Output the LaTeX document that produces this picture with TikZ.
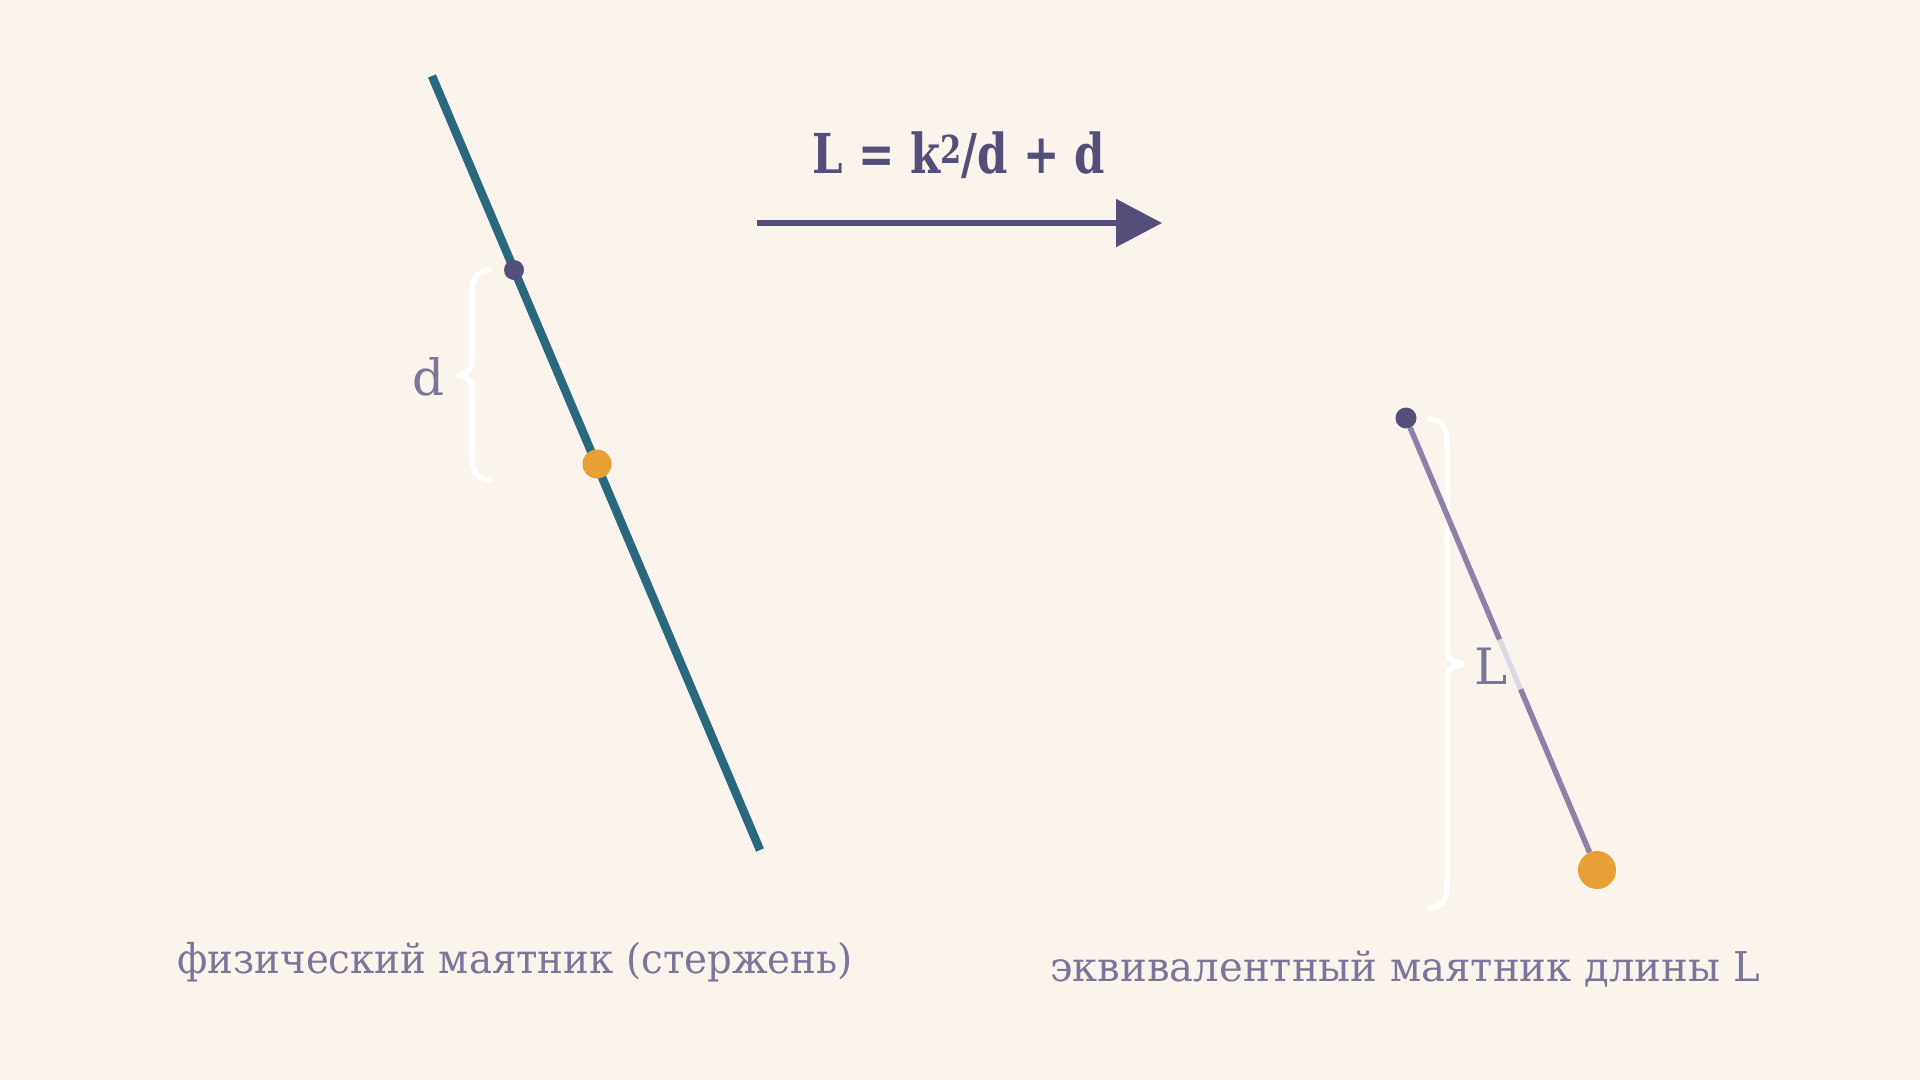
\documentclass[tikz,border=0pt]{standalone}
\usepackage{fontspec}
\setmainfont{DejaVu Serif}
\usetikzlibrary{arrows.meta,calc}
\definecolor{bgc}{RGB}{250,244,237}
\definecolor{rodc}{RGB}{42,104,128}
\definecolor{pivc}{RGB}{84,79,122}
\definecolor{bobc}{RGB}{232,160,54}
\definecolor{labc}{RGB}{123,118,153}
\definecolor{strc}{RGB}{142,128,168}
\tikzset{
  pivot/.style={circle, fill=pivc, inner sep=0pt, minimum size=#1},
  bob/.style={circle, fill=bobc, inner sep=0pt, minimum size=#1},
  bracepath/.style={draw=white, line width=5.5pt, line cap=round, line join=round},
  lab/.style={text=labc, font=\fontsize{50}{60}\selectfont, inner sep=0pt},
  caption/.style={text=labc, font=\fontsize{41}{50}\selectfont, inner sep=0pt, anchor=base},
}
\begin{document}
\begin{tikzpicture}[x=1pt,y=-1pt]
\fill[bgc] (0,0) rectangle (1920,1080);
\useasboundingbox (0,0) rectangle (1920,1080);
% left physical pendulum
\coordinate (rodtop) at (432,76);
\coordinate (rodbot) at (760,850);
\draw[rodc, line width=8.5pt] (rodtop) -- (rodbot);
\node[pivot=20pt] (piv1) at (514,270) {};
\node[bob=29pt] (cm1) at (597,464) {};
% brace d
\path[bracepath] (490,270) .. controls (478,271) and (472,278) .. (472,292) -- (472,362)
  .. controls (472,370) and (466,374) .. (458,375) .. controls (466,376) and (472,380) .. (472,388)
  -- (472,458) .. controls (472,472) and (478,479) .. (490,480);
\node[lab, anchor=base] (dlab) at (428,395) {d};
% arrow and formula
\coordinate (a1) at (757,223);
\coordinate (a2) at (1162,223);
\draw[pivc, line width=5.5pt, -{Triangle[length=46pt,width=47pt]}] (a1) -- (a2);
\node[text=pivc, font=\fontsize{55}{66}\selectfont\bfseries, anchor=base, inner sep=0pt] (formula) at (959,173) {\scalebox{0.79}[1]{L = k\textsuperscript{2}/d + d}};
% brace L
\path[bracepath] (1430,419) .. controls (1442,420) and (1447,428) .. (1447,442) -- (1447,650)
  .. controls (1447,658) and (1453,662) .. (1463,664) .. controls (1453,666) and (1447,670) .. (1447,678)
  -- (1447,886) .. controls (1447,900) and (1442,907) .. (1430,908);
% right equivalent pendulum
\node[pivot=21pt] (piv2) at (1406,418) {};
\node[bob=38pt] (bob2) at (1597,870) {};
\draw[strc, line width=5.5pt] (piv2) -- (bob2);
\draw[white, line width=7pt, opacity=0.7] ($(piv2)!0.49!(bob2)$) -- ($(piv2)!0.60!(bob2)$);
\node[lab, anchor=base] (Llab) at (1491,684) {L};
% captions
\node[caption] (cap1) at (515,973) {\scalebox{0.945}[1]{физический маятник (стержень)}};
\node[caption] (cap2) at (1405,981) {\scalebox{0.98}[1]{эквивалентный маятник длины L}};
\end{tikzpicture}
\end{document}
